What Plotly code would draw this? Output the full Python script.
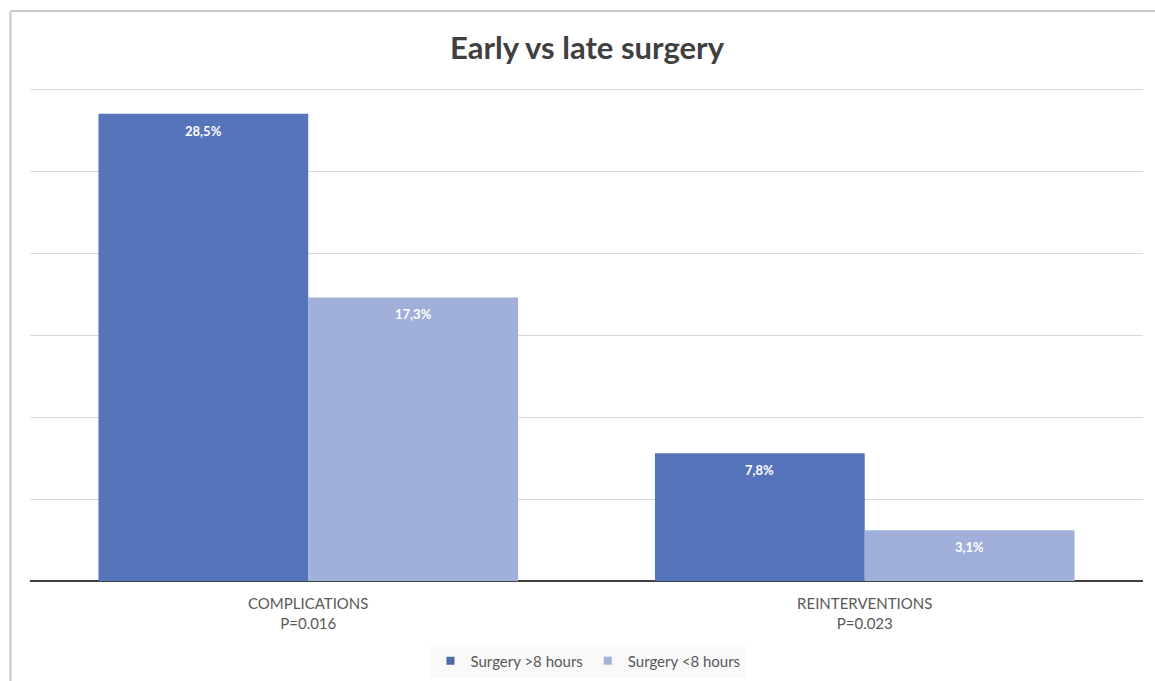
import plotly.graph_objects as go

categories = ["COMPLICATIONS<br>P=0.016", "REINTERVENTIONS<br>P=0.023"]
series_names = ["Surgery >8 hours", "Surgery <8 hours"]
late_values = [28.5, 7.8]
early_values = [17.3, 3.1]
label_late = ["28,5%", "7,8%"]
label_early = ["17,3%", "3,1%"]
colors = ["#5674B9", "#A1B0DB"]
legend_colors = ["#5169A6", "#A4B0D6"]

W, H = 1155, 681
ml, mr, mt, mb = 29.5, 11.5, 86, 100
pw, ph = W - ml - mr, H - mt - mb


def px(x):
    return (x - ml) / pw


def py(y):
    return (H - mb - y) / ph


fig = go.Figure()
series = [
    (series_names[0], late_values, label_late, colors[0], legend_colors[0], -1),
    (series_names[1], early_values, label_early, colors[1], legend_colors[1], 1),
]
for name, vals, labels, col, lcol, side in series:
    fig.add_trace(go.Bar(
        x=categories, y=vals, name=name, showlegend=False,
        marker=dict(color=col, line=dict(width=0)),
    ))
for name, vals, labels, col, lcol, side in series:
    fig.add_trace(go.Scatter(
        x=[None], y=[None], mode="markers", name=name,
        marker=dict(symbol="square", size=8, color=lcol),
    ))

annotations = []
for name, vals, labels, col, lcol, side in series:
    for c, v, t in zip(categories, vals, labels):
        annotations.append(dict(
            x=c, y=v, xref="x", yref="y", text="<b>" + t + "</b>", showarrow=False,
            xshift=side * 105, yshift=-17, yanchor="middle",
            font=dict(family="Lato", size=13, color="white"),
        ))

fig.update_layout(
    width=W, height=H,
    margin=dict(l=ml, r=mr, t=mt, b=mb, pad=0, autoexpand=False),
    paper_bgcolor="white", plot_bgcolor="white",
    barmode="group", bargap=0.246, bargroupgap=0,
    title=dict(text="<b>Early vs late surgery</b>", x=px(587), xref="paper", xanchor="center",
               y=1 - 48 / H, yanchor="middle",
               font=dict(family="Lato", size=31, color="#404040")),
    font=dict(family="Lato", color="#595959"),
    showlegend=True,
    legend=dict(orientation="h", x=px(588), xanchor="center", xref="paper",
                y=py(661), yanchor="middle", yref="paper",
                font=dict(family="Lato", size=15, color="#595959"),
                bgcolor="rgba(249,249,249,1)", itemwidth=30, traceorder="normal"),
    xaxis=dict(showgrid=False, tickfont=dict(family="Lato", size=15, color="#595959"),
               ticks="", showline=False, zeroline=False, ticklabelstandoff=12),
    yaxis=dict(range=[0, 30.2], tickvals=[5, 10, 15, 20, 25, 30], showgrid=True,
               gridcolor="#D9D9D9", gridwidth=1,
               showticklabels=False, zeroline=True, zerolinecolor="#404040", zerolinewidth=2,
               showline=False),
    annotations=annotations,
    shapes=[
        dict(type="line", xref="paper", yref="paper", x0=px(10), x1=px(10), y0=py(11), y1=py(H + 5),
             line=dict(color="#C8C8C8", width=2)),
        dict(type="line", xref="paper", yref="paper", x0=px(10), x1=px(W + 5), y0=py(11), y1=py(11),
             line=dict(color="#C8C8C8", width=2)),
    ],
)

fig.write_html("out.html")
